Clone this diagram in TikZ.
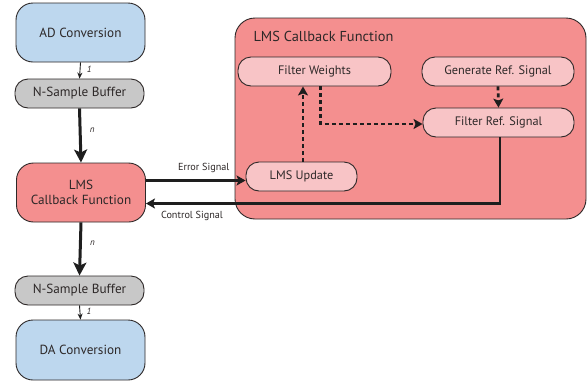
\documentclass[tikz,border=0pt]{standalone}
\usepackage{fontspec}
\setmainfont{PT Sans}
\usetikzlibrary{arrows.meta,calc}
\definecolor{blueF}{RGB}{189,215,238}
\definecolor{grayF}{RGB}{200,200,200}
\definecolor{redF}{RGB}{244,143,143}
\definecolor{pinkF}{RGB}{248,196,198}
\definecolor{edgeC}{RGB}{45,40,40}
\definecolor{lineC}{RGB}{30,30,30}
\tikzset{
  box/.style={draw=edgeC,line width=0.9pt,rectangle,inner sep=0pt,align=center,text=edgeC},
  bigbox/.style={box,minimum width=129pt,minimum height=59pt,rounded corners=17pt,font=\fontsize{13.2}{15.5}\selectfont},
  bufbox/.style={box,fill=grayF,minimum width=129pt,minimum height=29pt,rounded corners=13pt,font=\fontsize{13.2}{15.5}\selectfont},
  innerbox/.style={box,fill=pinkF,minimum height=29pt,rounded corners=13pt,font=\fontsize{12.3}{14}\selectfont},
  thinarr/.style={draw=lineC,line width=0.9pt,-{Stealth[length=6pt,width=5pt]}},
  thickarr/.style={draw=lineC,line width=3pt,-{Stealth[length=13pt,width=13pt,inset=3pt]}},
  midarr/.style={draw=lineC,line width=2.6pt,-{Stealth[length=9pt,width=10pt,inset=2pt]}},
  dasharr/.style={draw=lineC,line width=2.8pt,dash pattern=on 4pt off 3pt,-{Stealth[length=9pt,width=10pt,inset=2pt]}},
  lbl/.style={font=\fontsize{10.2}{12}\selectfont,text=edgeC},
  numlbl/.style={font=\fontsize{9}{10}\selectfont\itshape,text=edgeC}
}
\begin{document}
\begin{tikzpicture}[x=1pt,y=-1pt]
\useasboundingbox[fill=white] (0,0) rectangle (587,381);
% container
\node[draw=edgeC,line width=0.9pt,fill=redF,rounded corners=20pt,minimum width=351pt,minimum height=201pt,inner sep=0pt] (cont) at (410.5,118.5) {};
\node[anchor=base west,font=\fontsize{14.4}{17}\selectfont,text=edgeC] (title) at (250,41.5) {LMS Callback Function};
% left column
\node[bigbox,fill=blueF] (ad) at (80.5,32.5) {AD Conversion};
\node[bufbox] (buf1) at (79.5,93.5) {N-Sample Buffer};
\node[bigbox,fill=redF] (lms) at (81,192.5) {LMS\\Callback Function};
\node[bufbox] (buf2) at (79.5,290.5) {N-Sample Buffer};
\node[bigbox,fill=blueF,minimum height=60pt] (da) at (80.5,350) {DA Conversion};
% inner nodes
\node[innerbox,minimum width=153pt] (fw) at (314.5,71.5) {Filter Weights};
\node[innerbox,minimum width=152pt] (gen) at (498,71.5) {Generate Ref. Signal};
\node[innerbox,minimum width=151pt] (fr) at (498.5,122.5) {Filter Ref. Signal};
\node[innerbox,minimum width=111pt] (upd) at (301.5,176.5) {LMS Update};
% left arrows
\draw[thinarr] (ad.south) -- node[numlbl,right=3pt,pos=0.4] {1} (buf1.north);
\draw[thickarr] (buf1.south) -- node[numlbl,right=5pt,pos=0.4] {n} (lms.north);
\draw[thickarr] (lms.south) -- node[numlbl,right=5pt,pos=0.4] {n} (buf2.north);
\draw[thinarr] (buf2.south) -- node[numlbl,right=3pt,pos=0.4] {1} (da.north);
% error / control
\coordinate (e1) at (lms.east |- 0,180.5);
\draw[midarr] (e1) -- node[lbl,above=3pt,pos=0.58] {Error Signal} (upd.west |- e1);
\coordinate (c1) at (lms.east |- 0,203.5);
\draw[midarr] ([xshift=1.5pt]fr.south) |- node[lbl,below=3pt,pos=0.935] {Control Signal} (c1);
% dashed
\draw[dasharr] ([xshift=1.5pt]upd.north) -- ([xshift=1.5pt]upd.north |- fw.south);
\draw[dasharr] ([xshift=6pt]fw.south) |- ([yshift=-1.5pt]fr.west);
\draw[dasharr] (gen.south) -- (fr.north);
\end{tikzpicture}
\end{document}
